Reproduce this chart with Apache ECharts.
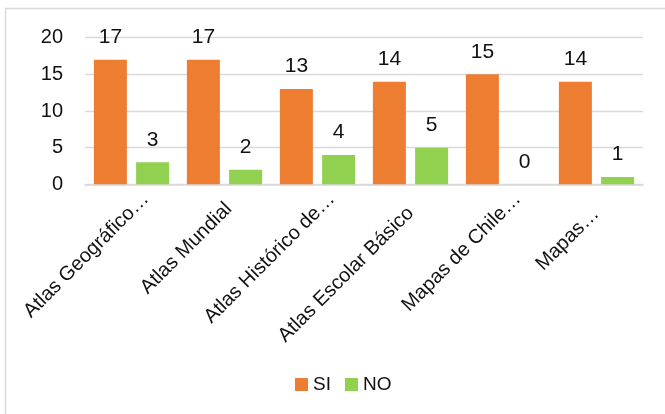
<!DOCTYPE html>
<html>
<head>
<meta charset="utf-8">
<script src="https://cdn.jsdelivr.net/npm/echarts@6/dist/echarts.min.js"></script>
<style>
html,body{margin:0;padding:0;background:#fff;}
#c{width:665px;height:414px;}
</style>
</head>
<body>
<div id="c"></div>
<script>
var categories = ["Atlas Geográfico…", "Atlas Mundial", "Atlas Histórico de…", "Atlas Escolar Básico", "Mapas de Chile…", "Mapas…"];
var labelShift = [0, 14, 0, 20, 0, 21];
var siValues = [17, 17, 13, 14, 15, 14];
var noValues = [3, 2, 4, 5, 0, 1];
var yTicks = [0, 5, 10, 15, 20];

var FONT = 'Liberation Sans, Arial, sans-serif';
var chart = echarts.init(document.getElementById('c'), null, {renderer: 'canvas'});

var labelData = categories.map(function (c, i) {
  return {value: c, textStyle: {padding: [0, labelShift[i], 0, 0]}};
});

chart.setOption({
  animation: false,
  backgroundColor: '#fff',
  graphic: [{
    type: 'rect',
    shape: {x: 5.5, y: 8.5, width: 700, height: 500},
    style: {fill: 'none', stroke: '#d9d9d9', lineWidth: 1.5},
    silent: true
  }],
  legend: {
    left: 295, top: 375, padding: 0,
    itemWidth: 13, itemHeight: 13, itemGap: 14,
    icon: 'rect',
    textStyle: {fontFamily: FONT, fontSize: 19, color: '#111'},
    data: ['SI', 'NO']
  },
  grid: [
    {left: 85, width: 558, top: 37.7, height: 146.6},
    {left: 99.25, width: 558, top: 37.7, height: 146.6}
  ],
  xAxis: [{
    type: 'category', gridIndex: 0, data: categories,
    axisLine: {lineStyle: {color: '#d9d9d9', width: 1.5}},
    axisTick: {show: false},
    axisLabel: {show: false}
  }, {
    type: 'category', gridIndex: 1, data: labelData,
    axisLine: {show: false},
    axisTick: {show: false},
    axisLabel: {rotate: 45, margin: 11.7, interval: 0, fontFamily: FONT, fontSize: 20, color: '#111'}
  }],
  yAxis: [{
    type: 'value', gridIndex: 0, min: yTicks[0], max: yTicks[yTicks.length - 1], interval: 5,
    axisLine: {show: false}, axisTick: {show: false},
    splitLine: {lineStyle: {color: '#d9d9d9', width: 1.3}},
    axisLabel: {margin: 22, fontFamily: FONT, fontSize: 20, color: '#111'}
  }, {
    type: 'value', gridIndex: 1, min: 0, max: 20, show: false
  }],
  series: [{
    name: 'SI', type: 'bar', xAxisIndex: 0, yAxisIndex: 0,
    data: siValues, barWidth: 33, barGap: '28%',
    itemStyle: {color: '#ED7D31'},
    label: {show: true, position: 'top', distance: 12, fontFamily: FONT, fontSize: 21, color: '#111'}
  }, {
    name: 'NO', type: 'bar', xAxisIndex: 0, yAxisIndex: 0,
    data: noValues, barWidth: 33, barGap: '28%',
    itemStyle: {color: '#92D050'},
    label: {show: true, position: 'top', distance: 12, fontFamily: FONT, fontSize: 21, color: '#111'}
  }]
});
</script>
</body>
</html>
